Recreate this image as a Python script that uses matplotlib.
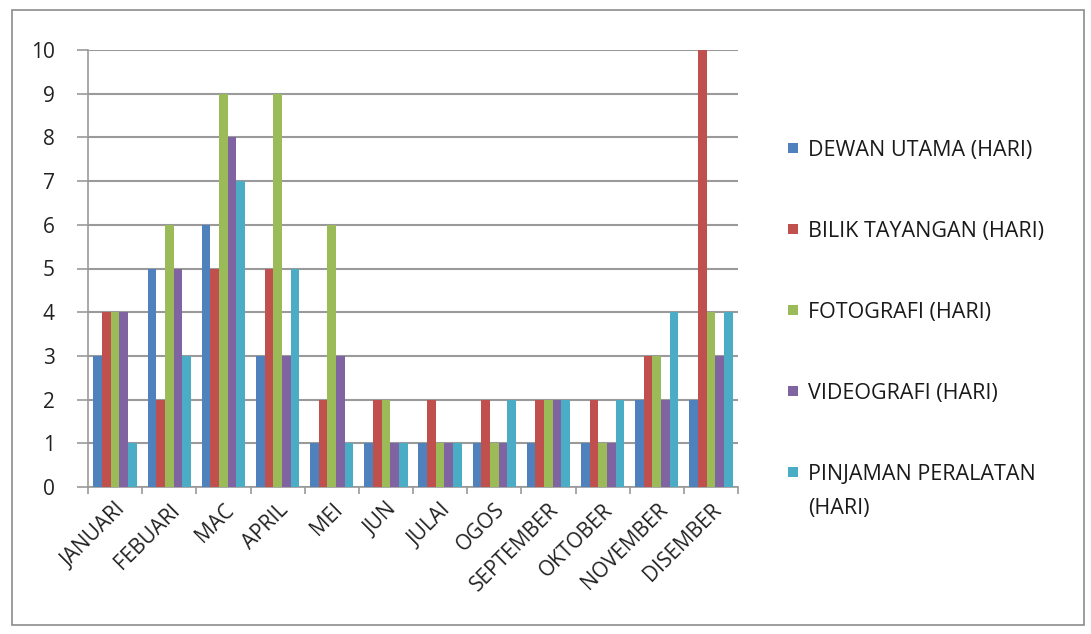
import matplotlib
matplotlib.use("Agg")
import matplotlib.pyplot as plt
import numpy as np
from matplotlib.patches import Rectangle

plt.rcParams['font.family'] = ['Open Sans', 'DejaVu Sans']

months = ["JANUARI", "FEBUARI", "MAC", "APRIL", "MEI", "JUN", "JULAI", "OGOS",
          "SEPTEMBER", "OKTOBER", "NOVEMBER", "DISEMBER"]
series_names = ["DEWAN UTAMA (HARI)", "BILIK TAYANGAN (HARI)", "FOTOGRAFI (HARI)",
                "VIDEOGRAFI (HARI)", "PINJAMAN PERALATAN\n(HARI)"]
dewan_utama = [3, 5, 6, 3, 1, 1, 1, 1, 1, 1, 2, 2]
bilik_tayangan = [4, 2, 5, 5, 2, 2, 2, 2, 2, 2, 3, 10]
fotografi = [4, 6, 9, 9, 6, 2, 1, 1, 2, 1, 3, 4]
videografi = [4, 5, 8, 3, 3, 1, 1, 1, 2, 1, 2, 3]
pinjaman = [1, 3, 7, 5, 1, 1, 1, 2, 2, 2, 4, 4]
y_ticks = list(range(0, 11))

colors = ["#4F81BD", "#C0504D", "#9BBB59", "#8064A2", "#4BACC6"]
all_series = [dewan_utama, bilik_tayangan, fotografi, videografi, pinjaman]

W, H = 1091, 634
fig = plt.figure(figsize=(W / 100, H / 100), dpi=100)
fig.patches.append(Rectangle((0.011, 0.014), 0.983, 0.97, transform=fig.transFigure,
                             fill=False, edgecolor="#8c8c8c", linewidth=1.2))

ax = fig.add_axes([88 / W, 1 - 487 / H, 650 / W, 437 / H])
x = np.arange(len(months))
bw = 0.16
for i, (vals, c, name) in enumerate(zip(all_series, colors, series_names)):
    ax.bar(x + (i - 2) * bw, vals, width=bw, color=c, label=name, zorder=3,
           edgecolor=c, linewidth=0)

ax.set_xlim(-0.5, len(months) - 0.5)
ax.set_ylim(0, 10)
ax.set_yticks(y_ticks)
ax.set_yticklabels([str(t) for t in y_ticks], fontsize=15, color="#222222")
ax.yaxis.grid(True, color="#9a9a9a", linewidth=1.5, zorder=0)
ax.set_axisbelow(True)

ax.set_xticks(x)
ax.set_xticklabels(months, rotation=45, ha="right", rotation_mode="anchor", fontsize=15,
                   color="#222222")
ax.tick_params(axis="x", length=0, pad=9)
ax.set_xticks(np.arange(-0.5, len(months), 1), minor=True)
ax.tick_params(axis="x", which="minor", length=5, color="#9a9a9a", width=1.2)
ax.tick_params(axis="y", length=8, color="#9a9a9a", width=1.2, pad=16)

for s in ["top", "right"]:
    ax.spines[s].set_visible(False)
for s in ["left", "bottom"]:
    ax.spines[s].set_color("#9a9a9a")
    ax.spines[s].set_linewidth(1.2)

# Legend drawn manually (Excel style: marker aligned with first text line)
y0, dy = 148, 81
for i, (name, c) in enumerate(zip(series_names, colors)):
    yc = y0 + dy * i
    fig.patches.append(Rectangle((788 / W, 1 - (yc + 5) / H), 10 / W, 10 / H,
                                 transform=fig.transFigure, facecolor=c, edgecolor="none"))
    for k, line in enumerate(name.split("\n")):
        fig.text(808 / W, 1 - (yc + 34 * k) / H, line, fontsize=15.5,
                 va="center_baseline", ha="left", color="#1a1a1a")

fig.savefig("out.png", dpi=100)
